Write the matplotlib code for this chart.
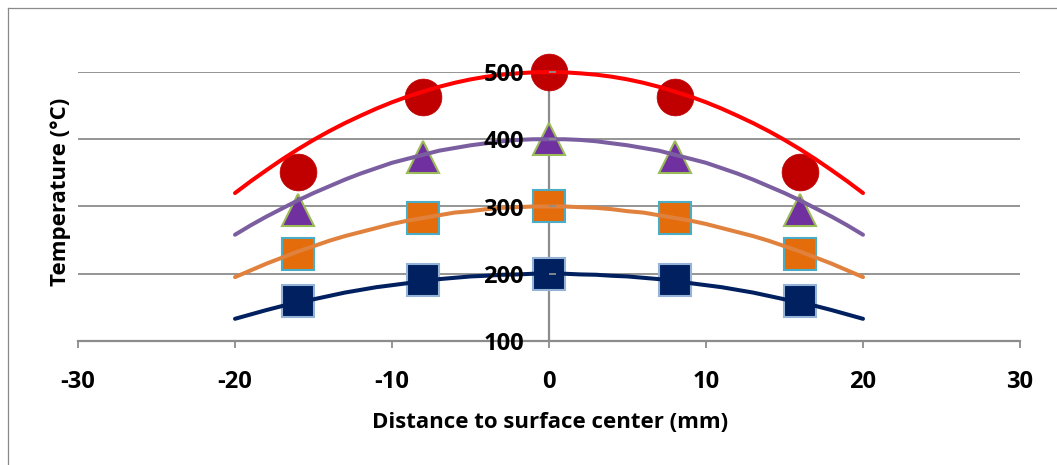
import matplotlib
matplotlib.use("Agg")
import matplotlib.pyplot as plt
from matplotlib.lines import Line2D

# ---------------- data ----------------
marker_x = [-16, -8, 0, 8, 16]
t_red = [352, 463, 500, 463, 352]
t_purple = [295, 373, 400, 373, 295]
t_orange = [230, 283, 300, 283, 230]
t_navy = [160, 190, 200, 190, 160]

curve_x = [-20, -19, -18, -17, -16, -15, -14, -13, -12, -11, -10,
           -9, -8, -7, -6, -5, -4, -3, -2, -1, 0,
           1, 2, 3, 4, 5, 6, 7, 8, 9, 10,
           11, 12, 13, 14, 15, 16, 17, 18, 19, 20]
c_red = [320, 337.5, 354, 370, 385, 399, 412, 424, 435, 445.5, 455,
         463.5, 471, 478, 484, 489, 493, 496, 498, 499.5, 500,
         499.5, 498, 496, 493, 489, 484, 478, 471, 463.5, 455,
         445.5, 435, 424, 412, 399, 385, 370, 354, 337.5, 320]
c_purple = [258, 272, 285, 297, 309, 320, 330, 340, 349, 357, 365,
            371, 377, 383, 387, 391, 394, 397, 399, 400, 400,
            400, 399, 397, 394, 391, 387, 383, 377, 371, 365,
            357, 349, 340, 330, 320, 309, 297, 285, 272, 258]
c_orange = [195, 205, 215, 224, 233, 241, 249, 256, 262, 268, 274,
             279, 283, 287, 291, 293, 296, 298, 299, 300, 300,
             300, 299, 298, 296, 293, 291, 287, 283, 279, 274,
             268, 262, 256, 249, 241, 233, 224, 215, 205, 195]
c_navy = [133, 139.5, 146, 152, 157, 162, 167, 172, 176, 180, 183,
          186, 189, 192, 194, 196, 197, 198.5, 199, 200, 200,
          200, 199, 198.5, 197, 196, 194, 192, 189, 186, 183,
          180, 176, 172, 167, 162, 157, 152, 146, 139.5, 133]

x_ticks = [-30, -20, -10, 0, 10, 20, 30]
y_ticks = [100, 200, 300, 400, 500]
x_title = "Distance to surface center (mm)"
y_title = "Temperature (°C)"

# ---------------- figure ----------------
W, H, DPI = 1057, 465, 100
plt.rcParams["font.family"] = ["Open Sans", "DejaVu Sans"]
fig = plt.figure(figsize=(W / DPI, H / DPI), dpi=DPI)
ax = fig.add_axes([78 / W, (H - 341) / H, 942 / W, 269 / H])
ax.set_xlim(-30, 30)
ax.set_ylim(100, 500)

grid_c = "#8c8c8c"
for yv in y_ticks[1:]:
    ax.axhline(yv, color=grid_c, lw=1.3, zorder=0.5)

for s in ["top", "right"]:
    ax.spines[s].set_visible(False)
ax.spines["left"].set_position(("data", 0))
ax.spines["left"].set_color(grid_c)
ax.spines["left"].set_linewidth(1.6)
ax.spines["left"].set_zorder(1)
ax.spines["bottom"].set_color(grid_c)
ax.spines["bottom"].set_linewidth(1.6)
ax.spines["bottom"].set_zorder(1)

ax.set_xticks(x_ticks)
ax.set_yticks(y_ticks)
ax.set_xticklabels([str(v) for v in x_ticks])
ax.set_yticklabels([str(v) for v in y_ticks])
ax.tick_params(axis="x", direction="out", length=5, width=1.3, color=grid_c,
               pad=16, labelsize=17)
ax.tick_params(axis="y", direction="in", length=5, width=1.3, color=grid_c,
               pad=18, labelsize=17)
for lab in ax.get_xticklabels() + ax.get_yticklabels():
    lab.set_fontweight("bold")
ax.yaxis.set_zorder(6)

ms_sq = 23.5
# markers
ax.plot(marker_x, t_navy, ls="none", marker="s", ms=ms_sq, mfc="#002060",
        mec="#95B3D7", mew=1.5, zorder=3, clip_on=False)
ax.plot(marker_x, t_orange, ls="none", marker="s", ms=ms_sq, mfc="#E46C0A",
        mec="#4BACC6", mew=1.5, zorder=3, clip_on=False)
ax.plot(marker_x, t_purple, ls="none", marker="^", ms=ms_sq, mfc="#7030A0",
        mec="#9BBB59", mew=1.5, zorder=3, clip_on=False)
ax.plot(marker_x, t_red, ls="none", marker="o", ms=26.5, mfc="#C00000",
        mec="#C00000", mew=0.5, zorder=3, clip_on=False)

# curves
lw = 2.9
for cy, col in [(c_navy, "#002060"), (c_orange, "#E0823D"),
                (c_purple, "#7B5EA0"), (c_red, "#FF0000")]:
    ax.plot(curve_x, cy, color=col, lw=lw, solid_capstyle="round",
            solid_joinstyle="round", zorder=4, clip_on=False)

# axis titles
fig.text(550 / W, (H - 428) / H, x_title, ha="center", va="baseline",
         fontsize=16, fontweight="bold")
fig.text(66 / W, (H - 192) / H, y_title, ha="center", va="baseline",
         rotation=90, rotation_mode="anchor", fontsize=16, fontweight="bold")

# chart border
bc = "#8a8a8a"
fig.add_artist(Line2D([7.5 / W, 7.5 / W], [0, (H - 8) / H],
                      transform=fig.transFigure, color=bc, lw=0.9))
fig.add_artist(Line2D([7.5 / W, 1], [(H - 8) / H, (H - 8) / H],
                      transform=fig.transFigure, color=bc, lw=0.9))

fig.savefig("out.png", dpi=DPI, facecolor="white")
